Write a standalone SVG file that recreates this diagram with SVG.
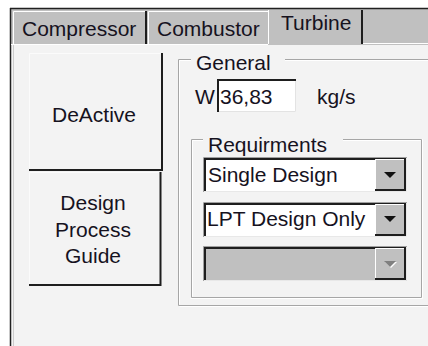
<svg xmlns="http://www.w3.org/2000/svg" width="428" height="346" viewBox="0 0 428 346">
<style>
text{font-family:"Liberation Sans",Arial,sans-serif;font-size:21px;fill:#16121e}
.tabbg{fill:#c0c0c0}
.hl{stroke:#ffffff;stroke-width:1;fill:none}
.dk{stroke:#1e1e1e;stroke-width:2;fill:none}
.g1{stroke:#a6a6a6;stroke-width:1;fill:none}
.g2{stroke:#ffffff;stroke-width:1;fill:none}
.btn{fill:#f3f3f3}
.combo{fill:#ffffff}
.ddb{fill:#c0c0c0}
.arr{fill:#111111}
</style>
<rect width="428" height="346" fill="#ffffff"/>
<g id="frame">
  <rect x="11" y="9" width="417" height="36" class="tabbg"/>
  <rect x="11" y="45" width="417" height="301" fill="#f3f3f3"/>
  <line x1="10" y1="8.5" x2="428" y2="8.5" stroke="#202020" stroke-width="1.5"/>
  <line x1="10.5" y1="8" x2="10.5" y2="346" stroke="#202020" stroke-width="1.5"/>
  <line x1="13.5" y1="45" x2="13.5" y2="346" stroke="#cccccc"/>
</g>
<g id="tab-compressor">
  <path d="M13.5 44 V11.5 H145" class="hl"/>
  <line x1="146" y1="11" x2="146" y2="44" class="dk"/>
  <line x1="11" y1="44.5" x2="148" y2="44.5" class="hl"/>
  <text x="22" y="36">Compressor</text>
</g>
<g id="tab-combustor">
  <path d="M148.5 44 V11.5 H268" class="hl"/>
  <line x1="148" y1="44.5" x2="268" y2="44.5" class="hl"/>
  <text x="157" y="36">Combustor</text>
</g>
<g id="tab-turbine">
  <line x1="268.5" y1="10" x2="268.5" y2="44" class="hl"/>
  <line x1="362" y1="10" x2="362" y2="44" class="dk"/>
  <line x1="363" y1="43.5" x2="428" y2="43.5" class="hl"/>
  <text x="281" y="30">Turbine</text>
</g>
<g id="btn-deactive">
  <rect x="29" y="53" width="133" height="117" class="btn"/>
  <path d="M29.5 169 V53.5 H161" stroke="#fbfbfb" fill="none"/>
  <path d="M162 53 V170 H29" class="dk"/>
  <text x="94" y="122" text-anchor="middle">DeActive</text>
</g>
<g id="btn-guide">
  <rect x="29" y="172" width="131" height="113" class="btn"/>
  <path d="M29.5 284 V172.5 H159" stroke="#fbfbfb" fill="none"/>
  <path d="M160.5 172 V285 H29" class="dk"/>
  <text x="93" y="210" text-anchor="middle">Design</text>
  <text x="93" y="237" text-anchor="middle">Process</text>
  <text x="93" y="263" text-anchor="middle">Guide</text>
</g>
<g id="grp-general">
  <path d="M191 59.5 H178.5 V305.5 H428 M285 59.5 H428" class="g1"/>
  <path d="M191 60.5 H179.5 V304.5 M179.5 306.5 H428 M285 60.5 H428" class="g2"/>
  <text x="196" y="70">General</text>
</g>
<g id="field-w">
  <text x="195" y="104">W</text>
  <rect x="217" y="79" width="79" height="33" fill="#ffffff"/>
  <path d="M218 112 V80 H296" class="dk"/>
  <path d="M295.5 81 V111.5 H219" stroke="#e3e3e3" fill="none"/>
  <text x="220" y="104">36,83</text>
  <text x="317" y="104">kg/s</text>
</g>
<g id="grp-requirements">
  <path d="M203 139.5 H191.5 V297.5 H421.5 V139.5 H343" class="g1"/>
  <path d="M203 140.5 H192.5 V296.5 M190.5 298.5 H422.5 V139 M420.5 140.5 H343" class="g2"/>
  <text x="208" y="152">Requirments</text>
</g>
<g id="combo-single">
  <rect x="203" y="157" width="204" height="35" class="combo"/>
  <path d="M203.5 192 V157.5 H407" stroke="#a0a0a0" fill="none"/>
  <path d="M205 191 V159 H406" class="dk"/>
  <path d="M406.5 158 V191.5 H204" stroke="#e8e8e8" fill="none"/>
  <rect x="375" y="159" width="30" height="31" class="ddb"/>
  <path d="M375.5 189 V159.5 H404" class="hl"/>
  <path d="M405 159 V190 H375" class="dk"/>
  <polygon points="384,172 396,172 390,178" class="arr"/>
  <text x="208" y="182">Single Design</text>
</g>
<g id="combo-lpt">
  <rect x="203" y="202" width="204" height="35" class="combo"/>
  <path d="M203.5 237 V202.5 H407" stroke="#a0a0a0" fill="none"/>
  <path d="M205 236 V204 H406" class="dk"/>
  <path d="M406.5 203 V236.5 H204" stroke="#e8e8e8" fill="none"/>
  <rect x="375" y="204" width="30" height="31" class="ddb"/>
  <path d="M375.5 234 V204.5 H404" class="hl"/>
  <path d="M405 204 V235 H375" class="dk"/>
  <polygon points="384,216 396,216 390,222" class="arr"/>
  <text x="207" y="226">LPT Design Only</text>
</g>
<g id="combo-disabled">
  <rect x="203" y="246" width="204" height="35" fill="#c0c0c0"/>
  <path d="M203.5 281 V246.5 H407" stroke="#a0a0a0" fill="none"/>
  <path d="M205 280 V248 H406" class="dk"/>
  <path d="M406.5 247 V280.5 H204" stroke="#e8e8e8" fill="none"/>
  <rect x="375" y="248" width="30" height="31" class="ddb"/>
  <path d="M375.5 278 V248.5 H404" class="hl"/>
  <path d="M405 248 V279 H375" class="dk"/>
  <polygon points="385,262 397,262 391,268" fill="#ffffff"/>
  <polygon points="384,261 396,261 390,267" fill="#808080"/>
</g>
</svg>
